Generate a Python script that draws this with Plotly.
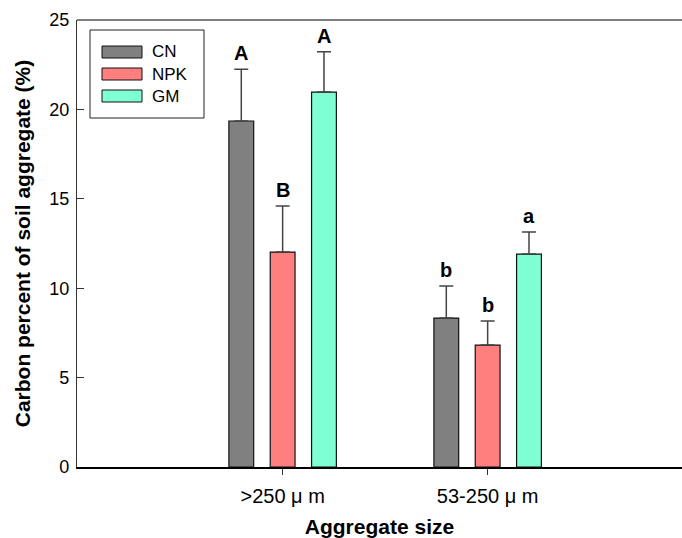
import plotly.graph_objects as go

categories = [">250 μ m", "53-250 μ m"]
treatments = ["CN", "NPK", "GM"]
colors = ["#808080", "#FF7F7F", "#7FFFD4"]
means = {
    "CN": [19.35, 8.33],
    "NPK": [12.02, 6.82],
    "GM": [20.97, 11.91],
}
errors = {
    "CN": [2.90, 1.80],
    "NPK": [2.58, 1.34],
    "GM": [2.25, 1.23],
}
letters = {
    "CN": ["A", "b"],
    "NPK": ["B", "b"],
    "GM": ["A", "a"],
}

W, H = 682, 538
ML, MR, MT, MB = 77, 0, 20, 538 - 467
FONT = "Arial, Liberation Sans, sans-serif"
BARGAP = 0.395
BARGROUPGAP = 0.4

fig = go.Figure()
for t, c in zip(treatments, colors):
    fig.add_trace(go.Bar(
        name=t, x=categories, y=means[t], marker_color=c,
        marker_line_color="#111111", marker_line_width=1.2,
        error_y=dict(type="data", array=errors[t], arrayminus=[0] * len(categories),
                     symmetric=False, color="#444444", thickness=1.5, width=7),
        showlegend=False,
    ))

slot = (1 - BARGAP) / len(treatments)
for j, t in enumerate(treatments):
    for i, cat in enumerate(categories):
        fig.add_annotation(
            x=i + (j - 1) * slot, y=means[t][i] + errors[t][i], xref="x", yref="y",
            text="<b>%s</b>" % letters[t][i], showarrow=False, yanchor="bottom",
            yshift=3, font=dict(family=FONT, size=20, color="#000000"),
        )

pw = W - ML - MR
ph = H - MT - MB


def px(xp):
    return (xp - ML) / pw


def py(yp):
    return 1 - (yp - MT) / ph


shapes = [
    dict(type="line", xref="paper", yref="paper", x0=0, x1=1, y0=1, y1=1,
         line=dict(color="#555555", width=1.5)),
    dict(type="rect", xref="paper", yref="paper", x0=px(90), x1=px(204), y0=py(118), y1=py(30),
         line=dict(color="#222222", width=1), fillcolor="white"),
]
for k, (t, c) in enumerate(zip(treatments, colors)):
    yc = 52 + k * 22
    shapes.append(dict(type="rect", xref="paper", yref="paper", x0=px(102), x1=px(142),
                       y0=py(yc + 6), y1=py(yc - 6), fillcolor=c,
                       line=dict(color="#111111", width=1)))
    fig.add_annotation(x=px(150), y=py(yc), xref="paper", yref="paper", text=t,
                       showarrow=False, xanchor="left", yanchor="middle",
                       font=dict(family=FONT, size=17, color="#000000"))

fig.update_layout(
    width=W, height=H,
    margin=dict(l=ML, r=MR, t=MT, b=MB, autoexpand=False),
    barmode="group", bargap=BARGAP, bargroupgap=BARGROUPGAP,
    plot_bgcolor="white", paper_bgcolor="white",
    font=dict(family=FONT, size=18, color="#000000"),
    hovermode=False,
    shapes=shapes,
    xaxis=dict(
        type="category", range=[-1.003, 1.948], showline=True, linecolor="#000000",
        linewidth=1.5, ticks="outside", ticklen=6, tickwidth=1, tickcolor="#333333",
        showgrid=False, zeroline=False, tickfont=dict(size=20), automargin=False,
        ticklabelstandoff=4,
        title=dict(text="<b>Aggregate size</b>", font=dict(size=21), standoff=15),
    ),
    yaxis=dict(
        range=[0, 25], dtick=5, showline=True, linecolor="#333333", linewidth=1.2,
        ticks="inside", ticklen=7, tickwidth=1, tickcolor="#333333", automargin=False,
        showgrid=False, zeroline=False, tickfont=dict(size=18), ticklabelstandoff=3,
        title=dict(text="<b>Carbon percent of soil aggregate (%)</b>", font=dict(size=21),
                   standoff=12),
    ),
)

# remove the browser's default 8px page margin so the figure fills the window exactly
fig.write_html("out.html", config={"displayModeBar": False},
               post_script="document.body.style.margin='0';"
                           "document.body.style.overflow='hidden';")
